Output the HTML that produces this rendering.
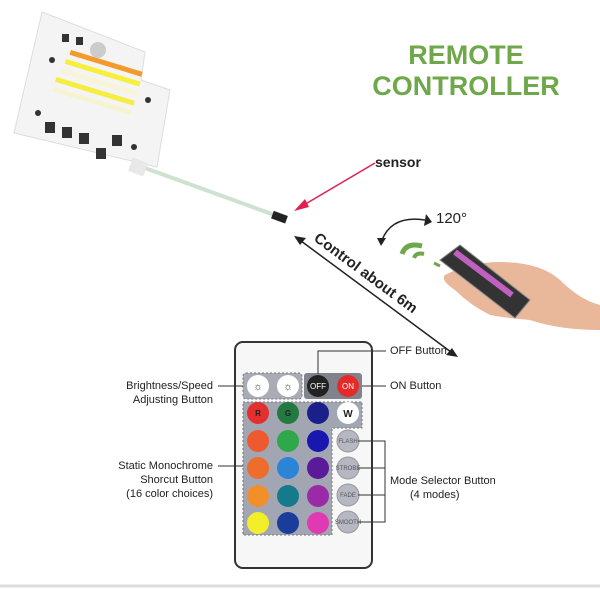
<!DOCTYPE html>
<html><head><meta charset="utf-8"><style>
body{margin:0;width:600px;height:600px;background:#fff;overflow:hidden;font-family:"Liberation Sans",sans-serif}
svg{display:block}
</style></head><body>
<svg width="600" height="600" viewBox="0 0 600 600" font-family="Liberation Sans, sans-serif">
<!-- PCB -->
<polygon points="42,12 145,52 141,80 170,90 157,167 14,133" fill="#f4f4f4" stroke="#ddd"/>
<g fill="#333"><rect x="62" y="34" width="7" height="8"/><rect x="76" y="37" width="7" height="8"/><circle cx="52" cy="60" r="3"/><circle cx="38" cy="113" r="3"/><circle cx="148" cy="100" r="3"/><circle cx="134" cy="147" r="3"/>
<rect x="45" y="122" width="10" height="11"/><rect x="62" y="127" width="10" height="11"/><rect x="79" y="133" width="10" height="11"/><rect x="96" y="148" width="10" height="11"/><rect x="112" y="135" width="10" height="11"/></g>
<circle cx="98" cy="50" r="8" fill="#ccc"/>
<g transform="rotate(17 100 85)">
<rect x="62" y="60" width="75" height="5" fill="#f39a2a"/>
<rect x="60" y="70" width="78" height="5" fill="#f7ef3a"/>
<rect x="58" y="80" width="80" height="5" fill="#f8f4d8"/>
<rect x="56" y="90" width="82" height="5" fill="#f5ee40"/>
<rect x="56" y="100" width="82" height="5" fill="#f6f3d2"/></g>
<!-- cable -->
<line x1="145" y1="168" x2="280" y2="217" stroke="#cfe1d0" stroke-width="4"/>
<rect x="130" y="160" width="16" height="14" fill="#e8e8e8" transform="rotate(20 138 167)"/>
<rect x="272" y="213" width="15" height="8" fill="#222" transform="rotate(20 279 217)"/>
<!-- sensor -->
<text x="375" y="167" font-size="14" font-weight="bold" fill="#222">sensor</text>
<line x1="375" y1="163" x2="297" y2="209" stroke="#e02050" stroke-width="1.5"/>
<polygon points="294,211 305,199 309,207" fill="#e02050"/>
<!-- title -->
<text x="466" y="64" font-size="27" font-weight="bold" fill="#6ea84a" text-anchor="middle">REMOTE</text>
<text x="466" y="95" font-size="27" font-weight="bold" fill="#6ea84a" text-anchor="middle">CONTROLLER</text>
<!-- distance -->
<line x1="297" y1="238" x2="455" y2="355" stroke="#222" stroke-width="1.5"/>
<polygon points="294,236 306,238 300,245" fill="#222"/><polygon points="458,357 446,355 452,348" fill="#222"/>
<text x="313" y="240" font-size="15" font-weight="bold" fill="#222" transform="rotate(36.5 313 240)">Control about 6m</text>
<!-- 120 -->
<path d="M382,240 Q392,215 425,220" fill="none" stroke="#222" stroke-width="1.5"/>
<polygon points="426,214 432,222 424,226" fill="#222"/><polygon points="377,238 386,238 381,246" fill="#222"/>
<text x="436" y="223" font-size="15" fill="#222">120°</text>
<path d="M402,254 Q406,242 422,246" fill="none" stroke="#6ea84a" stroke-width="5"/>
<path d="M414,258 Q416,252 424,254" fill="none" stroke="#6ea84a" stroke-width="4"/>
<path d="M434,263 L440,266" stroke="#6ea84a" stroke-width="3"/>
<!-- hand -->
<path d="M445,275 Q470,262 500,262 Q540,262 560,280 Q580,300 600,305 L600,330 Q560,330 530,320 Q505,318 490,315 Q470,305 455,290 Q440,280 445,275Z" fill="#e9b79a"/>
<path d="M440,260 L460,245 L530,300 L515,318Z" fill="#333" stroke="#888"/>
<path d="M455,252 L512,295" stroke="#c060c0" stroke-width="6"/>
<!-- lower remote -->
<rect x="235" y="342" width="137" height="226" rx="8" fill="#f7f7f7" stroke="#333" stroke-width="2"/>
<rect x="243" y="373" width="59" height="26" rx="3" fill="#a9acb4" stroke="#777" stroke-dasharray="2,2"/>
<rect x="304" y="373" width="58" height="26" rx="3" fill="#80838b"/>
<path d="M243,402 H362 V428 H332 V535 H243Z" fill="#a2a6b3" stroke="#777" stroke-dasharray="2,2"/>
<circle cx="258" cy="386" r="11" fill="#fff"/><circle cx="288" cy="386" r="11" fill="#fff"/>
<text x="258" y="390" font-size="11" text-anchor="middle" fill="#444">☼</text><text x="288" y="390" font-size="11" text-anchor="middle" fill="#444">☼</text>
<circle cx="318" cy="386" r="11" fill="#222"/><circle cx="348" cy="386" r="11" fill="#e52a2a"/>
<text x="318" y="389" font-size="8" text-anchor="middle" fill="#fff">OFF</text><text x="348" y="389" font-size="8" text-anchor="middle" fill="#fff">ON</text>
<g>
<circle cx="258" cy="413" r="11" fill="#e42f2f"/><circle cx="288" cy="413" r="11" fill="#237a40"/><circle cx="318" cy="413" r="11" fill="#1b1f8a"/><circle cx="348" cy="413" r="11" fill="#fff"/>
<circle cx="258" cy="441" r="11" fill="#ee5a30"/><circle cx="288" cy="441" r="11" fill="#2ea84a"/><circle cx="318" cy="441" r="11" fill="#1818b0"/>
<circle cx="258" cy="468" r="11" fill="#ef6d2b"/><circle cx="288" cy="468" r="11" fill="#2b84d6"/><circle cx="318" cy="468" r="11" fill="#5a1a9a"/>
<circle cx="258" cy="496" r="11" fill="#f28f2a"/><circle cx="288" cy="496" r="11" fill="#157a8c"/><circle cx="318" cy="496" r="11" fill="#9a2aa6"/>
<circle cx="258" cy="523" r="11" fill="#f2ee2a"/><circle cx="288" cy="523" r="11" fill="#1a3c9a"/><circle cx="318" cy="523" r="11" fill="#e03ab2"/>
</g>
<g font-size="8" text-anchor="middle" font-weight="bold"><text x="258" y="416" fill="#222">R</text><text x="288" y="416" fill="#222">G</text><text x="348" y="417" fill="#222" font-size="10">W</text></g>
<g fill="#b5b7c2" stroke="#999"><circle cx="348" cy="441" r="11"/><circle cx="348" cy="468" r="11"/><circle cx="348" cy="495" r="11"/><circle cx="348" cy="522" r="11"/></g>
<g font-size="6" text-anchor="middle" fill="#555"><text x="348" y="443">FLASH</text><text x="348" y="470">STROBE</text><text x="348" y="497">FADE</text><text x="348" y="524">SMOOTH</text></g>
<g stroke="#333" fill="none" stroke-width="1">
<path d="M318,374 V351 H386"/><path d="M362,386 H386"/>
<path d="M358,441 H385 V522 H358 M358,468 H385 M358,495 H385"/>
<path d="M218,386 H243"/><path d="M218,466 H243"/></g>
<g font-size="11" fill="#222">
<text x="390" y="354">OFF Button</text><text x="390" y="389">ON Button</text>
<text x="390" y="484">Mode Selector Button</text><text x="410" y="498">(4 modes)</text>
<g text-anchor="end"><text x="213" y="389">Brightness/Speed</text><text x="213" y="403">Adjusting Button</text>
<text x="213" y="469">Static Monochrome</text><text x="213" y="483">Shorcut Button</text><text x="213" y="497">(16 color choices)</text></g></g>
<line x1="0" y1="586" x2="600" y2="586" stroke="#ddd" stroke-width="3"/>
</svg>
</body></html>
